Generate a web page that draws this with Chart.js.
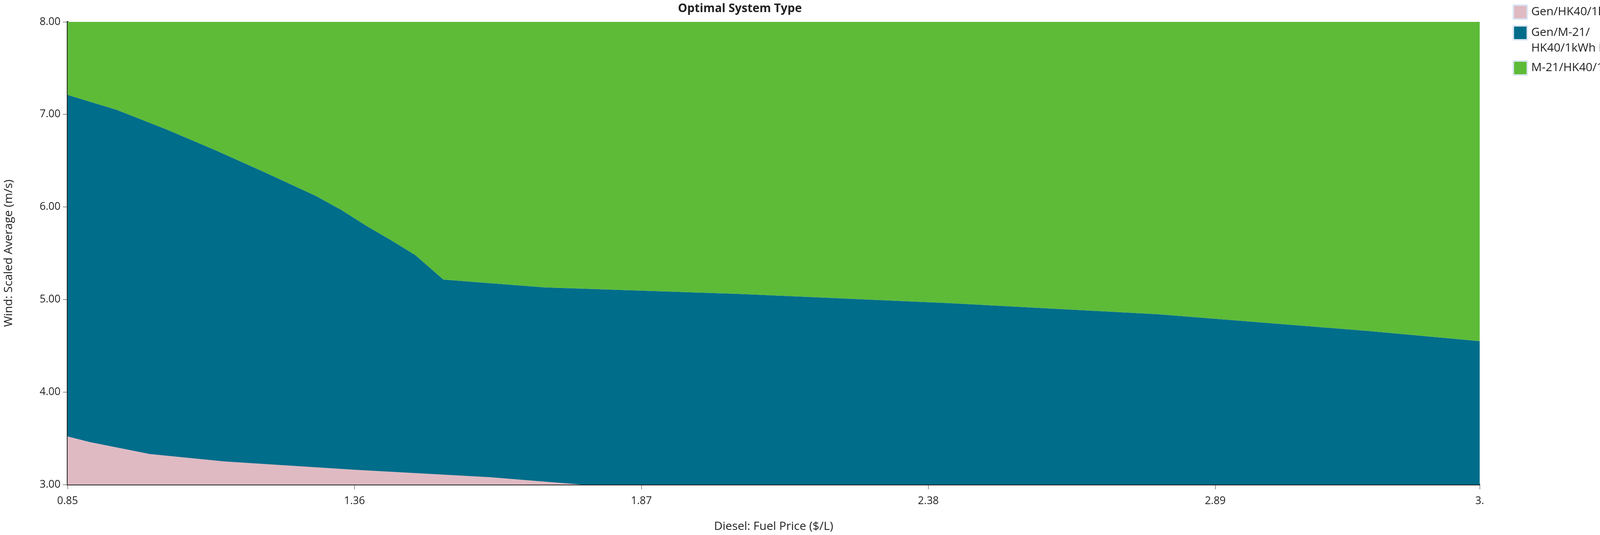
<!DOCTYPE html>
<html><head><meta charset="utf-8">
<script src="https://cdn.jsdelivr.net/npm/chart.js@4"></script>
<style>
html,body{margin:0;padding:0;background:#fff;overflow:hidden;}
#wrap{position:relative;width:4260px;height:1369px;overflow:hidden;}
#legend{position:absolute;left:3872px;top:8px;width:380px;font-family:"Open Sans","DejaVu Sans",sans-serif;font-size:30px;color:#222;line-height:40px;white-space:nowrap;}
.item{display:flex;align-items:flex-start;margin-bottom:10px;}
.sw{width:32px;height:32px;margin:3px 8px 0 0;border:4px solid #dde8f4;border-radius:4px;box-sizing:content-box;}
</style></head>
<body><div id="wrap"><canvas id="c" width="4260" height="1369" style="width:4260px;height:1369px"></canvas>
<div id="legend"></div></div>
<script>
const categories = ["Gen/HK40/1kWh LA", "Gen/M-21/\nHK40/1kWh LA", "M-21/HK40/1kWh LA"];
const colors = ["#DFBAC3", "#006D8A", "#5DBB38"];
const xTicks = [0.85, 1.36, 1.87, 2.38, 2.89, 3.36];
const xTickLabels = ["0.85", "1.36", "1.87", "2.38", "2.89", "3."];
const yTicks = [3, 4, 5, 6, 7, 8];
// boundary between Gen/M-21 (below) and M-21 (above)
const upperX = [0.85, 0.937, 1.025, 1.114, 1.202, 1.291, 1.336, 1.380, 1.425, 1.468, 1.518, 1.698, 2.045, 2.417, 2.789, 3.162, 3.36];
const upperY = [7.21, 7.05, 6.84, 6.61, 6.37, 6.12, 5.97, 5.80, 5.64, 5.48, 5.215, 5.13, 5.06, 4.96, 4.84, 4.66, 4.55];
// boundary between Gen/HK40 (below) and Gen/M-21 (above)
const lowerX = [0.85, 0.889, 0.996, 1.129, 1.36, 1.60, 1.764];
const lowerY = [3.52, 3.46, 3.33, 3.25, 3.16, 3.08, 3.00];

const pts = (xs, ys) => xs.map((x, i) => ({x: x, y: ys[i]}));
const font = '"Open Sans","DejaVu Sans",sans-serif';

new Chart(document.getElementById('c'), {
  type: 'line',
  data: { datasets: [
    {label: categories[0], data: pts(lowerX, lowerY), backgroundColor: colors[0], borderWidth: 0, pointRadius: 0, fill: 'start', order: 0},
    {label: categories[1], data: pts(upperX, upperY), backgroundColor: colors[1], borderWidth: 0, pointRadius: 0, fill: 'start', order: 1},
    {label: categories[2], data: pts(upperX, upperY), backgroundColor: colors[2], borderWidth: 0, pointRadius: 0, fill: 'end', order: 2}
  ]},
  options: {
    responsive: false, animation: false, devicePixelRatio: 1,
    layout: {padding: {left: 0, right: 472, top: 0, bottom: 0}},
    plugins: {
      legend: {display: false}, tooltip: {enabled: false},
      title: {display: true, text: 'Optimal System Type', color: '#222', font: {family: font, size: 30, weight: 'bold'}, padding: {top: 4, bottom: 16}}
    },
    scales: {
      x: {type: 'linear', min: 0.85, max: 3.36,
        afterBuildTicks: s => { s.ticks = xTicks.map(v => ({value: v})); },
        afterFit: s => { s.height = 129; },
        ticks: {color: '#222', font: {family: font, size: 27}, padding: 14, maxRotation: 0, autoSkip: false,
          callback: (v, i) => xTickLabels[i]},
        grid: {drawOnChartArea: false, color: '#333', tickLength: 12},
        border: {color: '#222', width: 4},
        title: {display: true, text: 'Diesel: Fuel Price ($/L)', color: '#222', font: {family: font, size: 30}, padding: {top: 30}}
      },
      y: {min: 3, max: 8,
        afterBuildTicks: s => { s.ticks = yTicks.map(v => ({value: v})); },
        afterFit: s => { s.width = 173; },
        ticks: {color: '#222', font: {family: font, size: 27}, padding: 6, callback: v => v.toFixed(2)},
        grid: {drawOnChartArea: false, color: '#333', tickLength: 12},
        border: {color: '#222', width: 4},
        title: {display: true, text: 'Wind: Scaled Average (m/s)', color: '#222', font: {family: font, size: 30}, padding: {bottom: 10}}
      }
    }
  }
});
const lg = document.getElementById('legend');
categories.forEach((c, i) => {
  const d = document.createElement('div'); d.className = 'item';
  d.innerHTML = '<div class="sw" style="background:' + colors[i] + '"></div><div>' + c.replace('\n', '<br>') + '</div>';
  lg.appendChild(d);
});
</script></body></html>
